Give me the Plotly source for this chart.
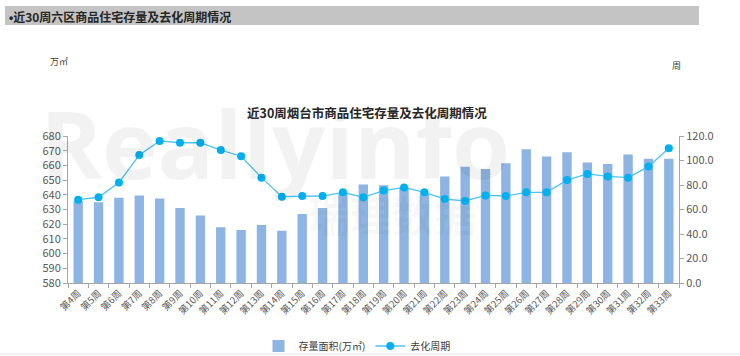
import plotly.graph_objects as go

weeks = ["第4周", "第5周", "第6周", "第7周", "第8周", "第9周", "第10周", "第11周", "第12周", "第13周",
         "第14周", "第15周", "第16周", "第17周", "第18周", "第19周", "第20周", "第21周", "第22周", "第23周",
         "第24周", "第25周", "第26周", "第27周", "第28周", "第29周", "第30周", "第31周", "第32周", "第33周"]
stock = [636, 635, 638, 639.5, 637.5, 631, 626, 618, 616, 619.5,
         615.5, 627, 631, 641, 647, 646.5, 645, 641, 652.5, 659,
         657.5, 661.5, 671, 666, 669, 662, 661, 667.5, 664.5, 664.5]
cycle = [68, 70, 82, 104.5, 116, 114.5, 114.5, 108.5, 103.5, 86,
         70.5, 71, 71, 74, 70, 75.5, 78, 74, 68.5, 67,
         71.5, 71, 74, 74, 84, 89, 87, 86, 95, 110]

W, H = 740, 356
L, R, T, B = 68, 679, 136, 283

def px(x):
    return (x - L) / (R - L)

def py(y):
    return (B - y) / (B - T)

FONT = "Noto Sans CJK SC, Microsoft YaHei, sans-serif"
TICKC = "#595959"

fig = go.Figure()
fig.add_trace(go.Bar(x=weeks, y=stock, name="存量面积(万㎡)", marker=dict(color="#8DB4E2", line=dict(width=0)),
                     yaxis="y"))
fig.add_trace(go.Scatter(x=weeks, y=cycle, name="去化周期", mode="lines+markers", yaxis="y2",
                         line=dict(color="#4DC3F2", width=1.3),
                         marker=dict(color="#00B0F0", size=8), cliponaxis=False))

fig.update_layout(
    width=W, height=H,
    margin=dict(l=L, r=W - R, t=T, b=H - B, pad=0, autoexpand=False),
    paper_bgcolor="white", plot_bgcolor="rgba(0,0,0,0)",
    font=dict(family=FONT, size=10, color=TICKC),
    bargap=0.54,
    showlegend=True,
    legend=dict(orientation="h", xref="container", yref="container", x=357 / W, xanchor="center",
                y=(H - 346) / H, yanchor="middle",
                font=dict(size=10, color="#404040"), bgcolor="rgba(0,0,0,0)", itemwidth=30),
    xaxis=dict(type="category", range=[-0.5, len(weeks) - 0.5], tickangle=-45, showgrid=False,
               showline=True, linecolor="#A6A6A6",
               ticks="outside", tickson="boundaries", ticklen=4, tickcolor="#A6A6A6",
               tickfont=dict(size=9.5, color=TICKC), zeroline=False, automargin=False),
    yaxis=dict(range=[580, 680], dtick=10, showgrid=False, showline=True, linecolor="#A6A6A6",
               ticks="outside", ticklen=4, tickcolor="#A6A6A6", tickfont=dict(size=11, color=TICKC),
               zeroline=False, automargin=False),
    yaxis2=dict(range=[0, 120], dtick=20, tickformat=".1f", overlaying="y", side="right", showgrid=False,
                showline=True, linecolor="#A6A6A6", ticks="outside", ticklen=4, tickcolor="#A6A6A6",
                tickfont=dict(size=11, color=TICKC), zeroline=False, automargin=False),
)

# header band
fig.add_shape(type="rect", xref="paper", yref="paper", x0=px(5), x1=px(699), y0=py(25), y1=py(6),
              fillcolor="#C4C4C4", line=dict(width=0), layer="below")

anns = [
    dict(text="<b>Reallyinfo</b>", x=px(275), y=py(143), xanchor="center", yanchor="middle",
         font=dict(size=94, color="rgba(0,0,0,0.05)", family="Open Sans, sans-serif")),
    dict(text="<b>瑞理数据</b>", x=px(392), y=py(213), xanchor="center", yanchor="middle",
         font=dict(size=42, color="rgba(0,0,0,0.04)")),
    dict(text="<b><span style=\"font-family:Arial\">•</span>近30周六区商品住宅存量及去化周期情况</b>",
         x=px(7), y=py(16), xanchor="left", yanchor="middle",
         font=dict(size=12, color="#262626")),
    dict(text="万㎡", x=px(48), y=py(61), xanchor="left", yanchor="middle", font=dict(size=9, color="#404040")),
    dict(text="周", x=px(670), y=py(66), xanchor="left", yanchor="middle", font=dict(size=9, color="#404040")),
    dict(text="<b>近30周烟台市商品住宅存量及去化周期情况</b>", x=px(245), y=py(112), xanchor="left", yanchor="middle",
         font=dict(size=12.5, color="#262626")),
]
for a in anns:
    fig.add_annotation(xref="paper", yref="paper", showarrow=False, **a)

# bottom rule
fig.add_shape(type="line", xref="paper", yref="paper", x0=px(0), x1=px(740), y0=py(354), y1=py(354),
              line=dict(color="#E6E6E6", width=1))

fig.write_html("out.html", config={"displayModeBar": False},
               post_script="document.body.style.margin='0px';document.body.style.padding='0px';")
